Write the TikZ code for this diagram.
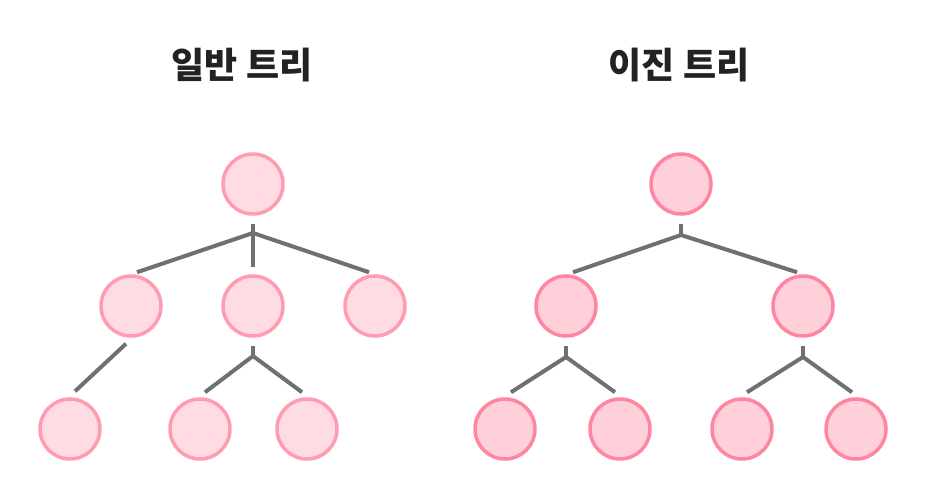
\documentclass[tikz,border=0pt]{standalone}
\usepackage{fontspec}
\newfontfamily\kr{Noto Sans CJK KR}
\usetikzlibrary{calc}
\definecolor{fillA}{HTML}{FFDCE3}
\definecolor{drawA}{HTML}{FF9CB0}
\definecolor{fillB}{HTML}{FFCFDA}
\definecolor{drawB}{HTML}{FF86A0}
\definecolor{edgegray}{HTML}{707070}
\definecolor{titlec}{HTML}{222222}
\tikzset{
  nodeA/.style={circle,draw=drawA,fill=fillA,line width=3.5pt,minimum size=60pt,inner sep=0pt},
  nodeB/.style={circle,draw=drawB,fill=fillB,line width=3.5pt,minimum size=60pt,inner sep=0pt},
  edge/.style={draw=edgegray,line width=4pt},
  ttl/.style={font=\kr\bfseries\fontsize{36}{40}\selectfont,text=titlec,inner sep=0pt}
}
\begin{document}
\begin{tikzpicture}[x=1pt,y=-1pt]
\useasboundingbox (0,0) rectangle (926,494);
% titles
\node[ttl] (t1) at (242,65) {일반 트리};
\node[ttl] (t2) at (679,65) {이진 트리};
% general tree
\node[nodeA] (r) at (253,184) {};
\node[nodeA] (b1) at (131,306) {};
\node[nodeA] (b2) at (253,306) {};
\node[nodeA] (b3) at (375,306) {};
\node[nodeA] (c1) at (70,429) {};
\node[nodeA] (c2) at (200,429) {};
\node[nodeA] (c3) at (307,429) {};
\coordinate (j0) at (253,233);
\coordinate (j2) at (253,356);
\draw[edge] ([yshift=-8pt]r.south) -- ([yshift=7pt]b2.north);
\draw[edge] (j0) -- ([shift={(6pt,2pt)}]b1.north);
\draw[edge] (j0) -- ([shift={(-6pt,2pt)}]b3.north);
\draw[edge] ([shift={(-5pt,-6pt)}]b1.south) -- ([shift={(5pt,6pt)}]c1.north);
\draw[edge] ([yshift=-8pt]b2.south) -- (j2);
\draw[edge] (j2) -- ([shift={(5pt,5pt)}]c2.north);
\draw[edge] (j2) -- ([shift={(-5pt,5pt)}]c3.north);
% binary tree
\node[nodeB] (R) at (681,184) {};
\node[nodeB] (B1) at (566,306) {};
\node[nodeB] (B2) at (803,306) {};
\node[nodeB] (C1) at (505,429) {};
\node[nodeB] (C2) at (620,429) {};
\node[nodeB] (C3) at (742,429) {};
\node[nodeB] (C4) at (856,429) {};
\coordinate (J0) at (681,235);
\coordinate (J1) at (566,357);
\coordinate (J2) at (803,357);
\draw[edge] ([yshift=-8pt]R.south) -- (J0);
\draw[edge] (J0) -- ([shift={(7pt,2pt)}]B1.north);
\draw[edge] (J0) -- ([shift={(-6pt,2pt)}]B2.north);
\draw[edge] ([yshift=-8pt]B1.south) -- (J1);
\draw[edge] (J1) -- ([shift={(6pt,5pt)}]C1.north);
\draw[edge] (J1) -- ([shift={(-5pt,5pt)}]C2.north);
\draw[edge] ([yshift=-8pt]B2.south) -- (J2);
\draw[edge] (J2) -- ([shift={(5pt,5pt)}]C3.north);
\draw[edge] (J2) -- ([shift={(-4pt,5pt)}]C4.north);
\end{tikzpicture}
\end{document}
